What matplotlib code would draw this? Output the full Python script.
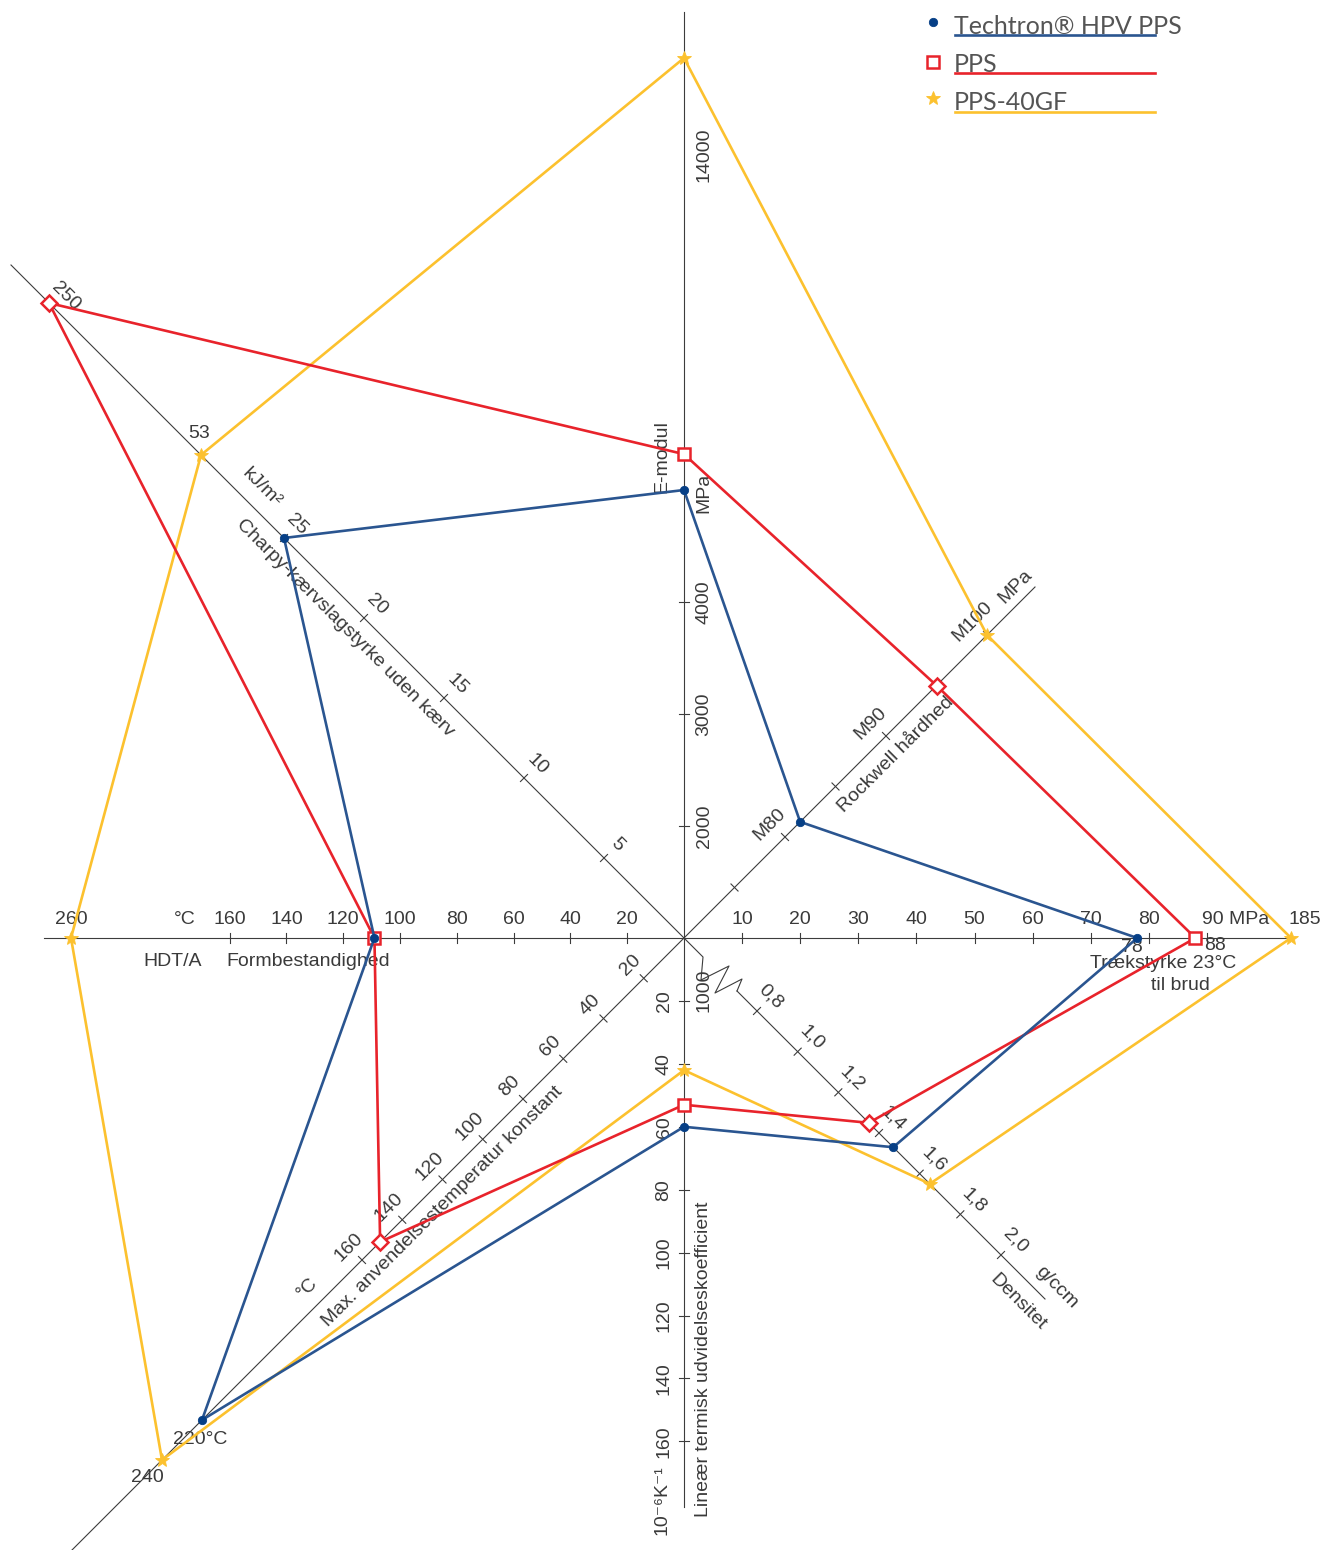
import numpy as np
import matplotlib
matplotlib.use("Agg")
import matplotlib.pyplot as plt

plt.rcParams.update({
    "font.family": ["Liberation Sans", "DejaVu Sans"],
    "font.size": 14,
})

# ---- data ---------------------------------------------------------------
series_names = ["Techtron® HPV PPS", "PPS", "PPS-40GF"]
# axis order: E-modul, Rockwell, Trækstyrke, Densitet, termisk udvidelse,
# max. anvendelsestemperatur, HDT/A, Charpy
techtron_vals = [5000, 81.5, 78, 1.47, 60, 220, 109, 25]
pps_vals = [5320, 95, 88, 1.35, 53, 151, 109, 250]
pps40gf_vals = [14000, 100, 185, 1.65, 42, 240, 260, 53]

emodul_ticks = [2000, 3000, 4000]
rockwell_ticks = [75, 80, 85, 90, 95, 100]
rockwell_labels = {80: "M80", 90: "M90", 100: "M100"}
traek_ticks = [10, 20, 30, 40, 50, 60, 70, 80, 90]
dens_ticks = [0.8, 1.0, 1.2, 1.4, 1.6, 1.8, 2.0]
term_ticks = [20, 40, 60, 80, 100, 120, 140, 160]
maxtemp_ticks = [20, 40, 60, 80, 100, 120, 140, 160]
hdt_ticks = [20, 40, 60, 80, 100, 120, 140, 160, 260]
charpy_ticks = [5, 10, 15, 20, 25]

# ---- layout (pixel space, y down) --------------------------------------
W, H = 1323, 1550
CX, CY = 684, 938
R2 = np.sqrt(2)

def unit(deg):
    return np.cos(np.radians(deg)), -np.sin(np.radians(deg))

# each axis: direction, value->distance anchors (piecewise, with breaks), line extent
AXES = [
    dict(ang=90, v=[1000, 6000, 14000], d=[0, 560, 880], ext=(0, 926)),
    dict(ang=45, v=[70, 100], d=[0, 303 * R2], ext=(0, 351 * R2)),
    dict(ang=0, v=[0, 90, 185], d=[0, 523, 607], ext=(0, 607)),
    dict(ang=-45, v=[0.8, 2.0], d=[73 * R2, 317 * R2], ext=(53 * R2, 361 * R2)),
    dict(ang=-90, v=[0, 160], d=[0, 503.4], ext=(0, 569)),
    dict(ang=-135, v=[0, 160, 220, 240], d=[0, 322 * R2, 482 * R2, 522 * R2], ext=(0, 612 * R2)),
    dict(ang=180, v=[0, 160, 260], d=[0, 454.4, 613], ext=(0, 640)),
    dict(ang=135, v=[0, 25, 53, 250], d=[0, 400 * R2, 483 * R2, 635 * R2], ext=(0, 673 * R2)),
]
for a in AXES:
    a["u"] = unit(a["ang"])

def pos(i, v):
    a = AXES[i]
    d = np.interp(v, a["v"], a["d"])
    return CX + d * a["u"][0], CY + d * a["u"][1]

fig = plt.figure(figsize=(W / 100, H / 100), dpi=100)
ax = fig.add_axes([0, 0, 1, 1])
ax.set_xlim(0, W)
ax.set_ylim(H, 0)
ax.axis("off")

AXC = "#3c3c3c"
TXT = "#3a3a3a"

# axis lines
for a in AXES:
    d0, d1 = a["ext"]
    ux, uy = a["u"]
    ax.plot([CX + d0 * ux, CX + d1 * ux], [CY + d0 * uy, CY + d1 * uy],
            color=AXC, lw=0.8, zorder=1)

# zigzag break on the density axis
zz = np.array([(0, 0), (19, 19), (17, 42), (45, 28), (31, 55), (58, 41), (53, 53)])
ax.plot(CX + zz[:, 0], CY + zz[:, 1], color=AXC, lw=0.8, zorder=1)

def ticks(i, vals, labels=None, off=(0, 0), rot=0, tl=5):
    ux, uy = AXES[i]["u"]
    px, py = -uy, ux
    for v in vals:
        x, y = pos(i, v)
        ax.plot([x - tl * px, x + tl * px], [y - tl * py, y + tl * py],
                color=AXC, lw=0.8, zorder=1)
        if labels is None:
            lab = f"{v:g}"
        else:
            lab = labels.get(v)
        if lab:
            ax.text(x + off[0], y + off[1], lab, rotation=rot, ha="center",
                    va="center", color=TXT, fontsize=14, rotation_mode="anchor")

ticks(0, emodul_ticks, off=(20, 0), rot=90)
ticks(1, rockwell_ticks, labels=rockwell_labels, off=(-15, -13), rot=45)
ticks(2, traek_ticks, labels={v: str(v) for v in traek_ticks if v < 90},
      off=(0, -18))
ticks(3, dens_ticks, labels={v: f"{v:.1f}".replace(".", ",") for v in dens_ticks},
      off=(14, -14), rot=-45)
ticks(4, term_ticks, off=(-20, 0), rot=90)
ticks(5, maxtemp_ticks, off=(-13, -13), rot=45)
ticks(6, hdt_ticks, off=(0, -18))
ticks(7, charpy_ticks, off=(13, -13), rot=-45)

def label(x, y, s, rot=0, ha="center", **kw):
    ax.text(x, y, s, rotation=rot, ha=ha, va="center", color=TXT, fontsize=14,
            rotation_mode="anchor", **kw)

# E-modul
label(662, 457, "E-modul", 90)
label(704, 493, "MPa", 90)
label(704, 990, "1000", 90)
label(704, 155, "14000", 90)
# Rockwell
label(896, 755, "Rockwell hårdhed", 45)
label(1015, 587, "MPa", 45)
# Trækstyrke
label(1202, 920, "90 MPa", ha="left")
label(1305, 920, "185")
label(1132, 948, "78")
label(1215, 946, "88")
label(1163, 963, "Trækstyrke 23°C")
label(1180, 985, "til brud")
# Densitet
label(1057, 1287, "g/ccm", -45)
label(1018, 1302, "Densitet", -45)
# termisk udvidelse
label(704, 1359, "Lineær termisk udvidelseskoefficient", 90)
label(662, 1500, "10⁻⁶K⁻¹", 90)
# max. temperatur
label(307, 1288, "°C", 45)
label(442, 1207, "Max. anvendelsestemperatur konstant", 45)
label(200, 1440, "220°C")
label(147, 1477, "240")
# HDT
label(185, 920, "°C")
label(173, 962, "HDT/A")
label(308, 962, "Formbestandighed")
# Charpy
label(199, 433, "53")
label(66, 296, "250", -45)
label(262, 488, "kJ/m²", -45)
label(345, 628, "Charpy-kærvslagstyrke uden kærv", -45)

# ---- series polygons ----------------------------------------------------
styles = [
    dict(vals=pps40gf_vals, lc="#fcc12e", mc="#fcc12e", mk="*", ms=10, fc="#fcc12e"),
    dict(vals=pps_vals, lc="#e8232b", mc="#e8232b", mk="s", ms=8.5, fc="white"),
    dict(vals=techtron_vals, lc="#2a5590", mc="#063f86", mk="o", ms=6, fc="#063f86"),
]
for k, st in enumerate(styles):
    pts = [pos(i, v) for i, v in enumerate(st["vals"])]
    xs = [p[0] for p in pts] + [pts[0][0]]
    ys = [p[1] for p in pts] + [pts[0][1]]
    ax.plot(xs, ys, color=st["lc"], lw=1.9, zorder=3 + k)
    for i, (x, y) in enumerate(pts):
        mk = st["mk"]
        if mk == "s" and AXES[i]["ang"] % 90 != 0:
            mk = "D"
        ax.plot(x, y, marker=mk, ms=st["ms"], color=st["mc"], mfc=st["fc"],
                mec=st["mc"], mew=1.8 if mk in "sD" else 0.6, ls="none",
                zorder=3 + k)

# ---- legend -------------------------------------------------------------
leg = [(series_names[0], styles[2], 22, 27, 35),
       (series_names[1], styles[1], 62, 64, 73),
       (series_names[2], styles[0], 98, 103, 112)]
for name, st, my, ty, ly in leg:
    ax.plot(933, my, marker=st["mk"], ms=st["ms"],
            color=st["mc"], mfc=st["fc"], mec=st["mc"],
            mew=1.8 if st["mk"] == "s" else 0.6, ls="none")
    ax.plot([955, 1155], [ly, ly], color=st["lc"], lw=1.9)
    ax.text(954, ty, name, ha="left", va="center", fontsize=18, color="#555555",
            family=["Lato", "DejaVu Sans"])

fig.savefig("out.png", dpi=100)
